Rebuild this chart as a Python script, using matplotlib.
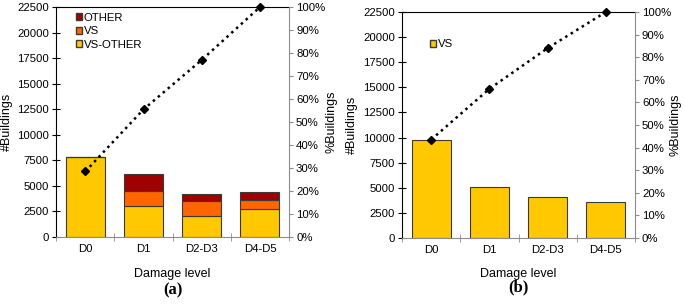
import matplotlib.pyplot as plt
from matplotlib.ticker import FuncFormatter, MultipleLocator, FixedLocator
from matplotlib.patches import Patch

plt.rcParams['font.family'] = ['Liberation Sans', 'DejaVu Sans']

# Datos
levels = ["D0", "D1", "D2-D3", "D4-D5"]

# (a)
vs_other_a = [7800, 3000, 2100, 2700]
vs_a = [0, 1550, 1450, 900]
other_a = [0, 1650, 700, 800]
cum_a = [28.5, 55.5, 77.0, 100.0]

# (b)
vs_b = [9800, 5100, 4050, 3600]
cum_b = [43.5, 66.0, 84.0, 100.0]

YELLOW = "#FFC800"
ORANGE = "#FF6600"
DARKRED = "#A00000"
EDGE = "#3a3a3a"
GRAY = "#8c8c8c"
FS = 8.2


def style_axes(ax, ax2, yl_x, yr_x, xl_y):
    ax.set_ylim(0, 22500)
    ax.set_xlim(-0.5, 3.5)
    ax.yaxis.set_major_locator(MultipleLocator(2500))
    ax.tick_params(axis="y", direction="inout", length=6, labelsize=FS, width=0.8, pad=2)
    ax.set_xticks(range(len(levels)))
    ax.set_xticklabels(levels, fontsize=FS)
    ax.xaxis.set_minor_locator(FixedLocator([-0.5, 0.5, 1.5, 2.5, 3.5]))
    ax.tick_params(axis="x", which="major", length=0, pad=5)
    ax.tick_params(axis="x", which="minor", direction="inout", length=6, color=GRAY)
    ax.spines["left"].set_color("black")
    ax.spines["top"].set_color("black")
    ax.spines["bottom"].set_color(GRAY)
    ax.spines["right"].set_visible(False)
    ax.set_ylabel("#Buildings", fontsize=9)
    ax.yaxis.set_label_coords(yl_x, 0.5)
    ax.set_xlabel("Damage level", fontsize=9)
    ax.xaxis.set_label_coords(0.5, xl_y)

    ax2.set_ylim(0, 100)
    ax2.yaxis.set_major_locator(MultipleLocator(10))
    ax2.yaxis.set_major_formatter(FuncFormatter(lambda v, p: f"{v:.0f}%"))
    ax2.tick_params(axis="y", direction="out", length=3, color=GRAY, labelsize=FS, pad=2)
    ax2.spines["right"].set_color(GRAY)
    for s in ["left", "top", "bottom"]:
        ax2.spines[s].set_visible(False)
    ax2.set_ylabel("%Buildings", fontsize=9)
    ax2.yaxis.set_label_coords(yr_x, 0.5)


fig = plt.figure(figsize=(6.85, 3.07), dpi=100)

# Panel (a)
axa = fig.add_axes([0.082, 0.228, 0.340, 0.749])
x = list(range(len(levels)))
w = 0.67
axa.bar(x, vs_other_a, w, color=YELLOW, edgecolor=EDGE, linewidth=0.8, label="VS-OTHER")
axa.bar(x, vs_a, w, bottom=vs_other_a, color=ORANGE, edgecolor=EDGE, linewidth=0.8, label="VS")
bot = [a + b for a, b in zip(vs_other_a, vs_a)]
axa.bar(x, other_a, w, bottom=bot, color=DARKRED, edgecolor=EDGE, linewidth=0.8, label="OTHER")
axa2 = axa.twinx()
axa2.plot(x, cum_a, color="black", linestyle=(0, (1, 1.6)), linewidth=1.8,
          marker="D", markersize=4.5, clip_on=False)
style_axes(axa, axa2, -0.185, 1.155, -0.135)
handles = [Patch(facecolor=DARKRED, edgecolor=EDGE, label="OTHER"),
           Patch(facecolor=ORANGE, edgecolor=EDGE, label="VS"),
           Patch(facecolor=YELLOW, edgecolor=EDGE, label="VS-OTHER")]
axa2.legend(handles=handles, loc="upper left", bbox_to_anchor=(0.055, 1.005), frameon=False,
            fontsize=FS, handlelength=0.55, handleheight=0.55, handletextpad=0.15,
            labelspacing=0.3, borderaxespad=0.2)
fig.text(0.252, 0.055, "(a)", fontsize=12, fontweight="bold", ha="center", va="center",
         family=["Liberation Serif", "DejaVu Serif"])

# Panel (b)
axb = fig.add_axes([0.587, 0.225, 0.340, 0.736])
axb.bar(x, vs_b, w, color=YELLOW, edgecolor=EDGE, linewidth=0.8, label="VS")
axb2 = axb.twinx()
axb2.plot(x, cum_b, color="black", linestyle=(0, (1, 1.6)), linewidth=1.8,
          marker="D", markersize=4.5, clip_on=False)
style_axes(axb, axb2, -0.19, 1.15, -0.133)
axb2.legend(handles=[Patch(facecolor=YELLOW, edgecolor=EDGE, label="VS")],
            loc="upper left", bbox_to_anchor=(0.09, 0.91), frameon=False,
            fontsize=FS, handlelength=0.55, handleheight=0.55, handletextpad=0.15,
            borderaxespad=0.2)
fig.text(0.757, 0.065, "(b)", fontsize=12, fontweight="bold", ha="center", va="center",
         family=["Liberation Serif", "DejaVu Serif"])

fig.savefig("out.png", dpi=100)
